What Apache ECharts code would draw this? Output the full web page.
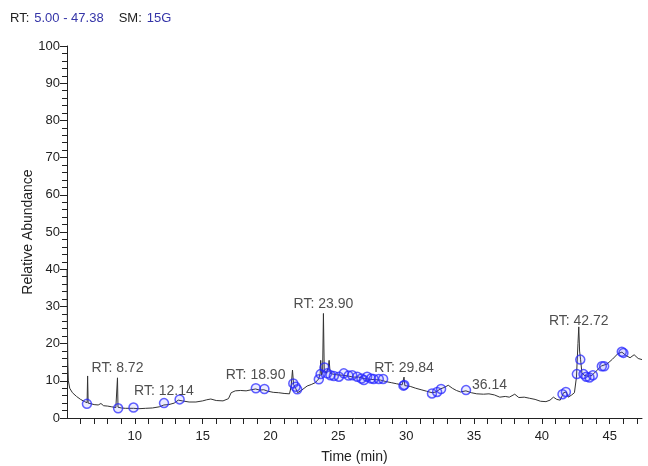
<!DOCTYPE html>
<html><head><meta charset="utf-8">
<script src="https://cdn.jsdelivr.net/npm/echarts@6/dist/echarts.min.js"></script>
<style>html,body{margin:0;padding:0;background:#fff}#c{width:648px;height:466px}</style>
</head><body><div id="c"></div>
<script>
// Chromatogram trace: retention time (min) and relative abundance (%)
var traceTime = [5.00,5.03,5.06,5.10,5.20,5.40,5.70,6.00,6.30,6.48,6.52,6.56,6.62,6.80,7.00,7.30,7.50,7.60,7.70,8.00,8.30,8.60,8.68,8.72,8.76,8.85,9.00,9.30,9.60,9.90,10.30,10.80,11.30,11.80,12.14,12.50,12.90,13.20,13.50,14.00,14.50,15.00,15.30,15.60,16.00,16.50,16.90,17.10,17.40,17.80,18.20,18.60,18.90,19.20,19.50,19.80,20.20,20.60,21.00,21.40,21.52,21.62,21.70,21.85,22.00,22.30,22.70,23.00,23.30,23.55,23.66,23.70,23.76,23.84,23.90,23.96,24.10,24.25,24.32,24.40,24.60,24.90,25.30,25.70,26.10,26.50,26.90,27.30,27.70,28.10,28.50,28.90,29.30,29.70,29.80,29.84,29.90,30.30,30.70,31.10,31.50,31.90,32.20,32.50,32.80,33.10,33.40,33.70,34.00,34.40,34.80,35.20,35.70,36.10,36.14,36.20,36.50,36.90,37.30,37.60,38.00,38.30,38.70,39.10,39.50,39.90,40.30,40.60,40.85,41.10,41.35,41.60,41.80,41.95,42.20,42.40,42.55,42.66,42.72,42.78,42.85,42.95,43.10,43.40,43.70,44.00,44.40,44.80,45.20,45.60,45.90,46.20,46.50,46.80,47.10,47.38];
var traceValue = [40.0,25.0,15.0,10.0,8.0,6.8,5.8,5.0,4.4,4.1,11.3,4.0,3.9,3.8,3.6,3.5,3.9,3.4,3.3,3.2,3.0,2.8,2.9,10.8,2.9,2.8,2.7,2.6,2.6,2.6,2.5,2.6,2.7,3.0,3.5,3.6,4.0,4.8,4.6,4.3,4.3,4.6,4.9,5.1,4.7,4.6,5.2,6.8,7.3,7.4,7.3,7.6,7.8,7.5,7.6,7.2,6.9,6.8,6.6,6.5,8.5,12.9,9.0,8.0,6.8,7.5,8.6,9.0,9.5,10.5,12.0,15.5,11.5,12.5,28.1,13.0,12.0,13.5,15.5,12.0,11.8,11.6,11.5,11.3,11.0,11.0,10.6,10.4,10.3,10.2,9.8,9.5,9.2,8.9,9.2,11.0,8.7,8.5,8.0,7.6,7.2,6.8,7.0,7.8,8.2,8.8,8.0,7.4,7.0,7.3,6.8,6.5,6.4,6.5,6.9,6.4,6.2,5.6,5.8,5.6,6.4,5.5,5.6,5.3,5.0,4.5,4.4,4.8,5.6,5.0,4.8,6.8,7.0,5.6,6.2,6.8,11.0,20.0,24.5,18.0,15.8,12.2,11.5,11.2,11.5,12.6,14.0,14.5,15.8,17.3,17.7,16.8,16.2,17.0,16.0,15.7];

// Identified peaks (blue circles)
var markTime = [6.47,8.77,9.90,12.15,13.30,18.92,19.55,21.68,21.85,21.97,23.56,23.69,23.98,24.18,24.42,24.67,25.04,25.40,25.75,26.02,26.39,26.70,26.88,27.12,27.40,27.60,27.98,28.30,29.80,29.86,31.90,32.28,32.57,34.41,41.52,41.77,42.58,42.83,43.07,43.27,43.51,43.76,44.42,44.59,45.89,46.01];
var markValue = [3.8,2.6,2.8,4.0,5.0,8.0,7.8,9.3,8.4,7.7,10.4,11.8,13.6,12.0,11.5,11.3,11.1,12.0,11.4,11.5,11.1,10.6,10.2,11.1,10.6,10.5,10.5,10.5,8.7,8.9,6.6,7.0,7.8,7.5,6.4,7.0,11.8,15.7,11.8,11.1,10.9,11.5,13.9,13.9,17.8,17.5];

// Peak annotations
var labelTime = [8.72,12.14,18.90,23.90,29.84,36.14,42.72];
var labelAnchor = [10.7,4.6,8.8,27.9,10.7,6.2,23.3];
var labelText = ['RT: 8.72','RT: 12.14','RT: 18.90','RT: 23.90','RT: 29.84','36.14','RT: 42.72'];

var xLabelValues = [10,15,20,25,30,35,40,45];
var xTickValues = [6,7,8,9,10,11,12,13,14,15,16,17,18,19,20,21,22,23,24,25,26,27,28,29,30,31,32,33,34,35,36,37,38,39,40,41,42,43,44,45,46,47];

var FONT = "'Liberation Sans', Arial, sans-serif";
var trace = traceTime.map(function(t,i){return [t, traceValue[i]];});
var marks = markTime.map(function(t,i){return [t, markValue[i]];});
var labels = labelTime.map(function(t,i){return [t, labelAnchor[i], labelText[i]];});

var chart = echarts.init(document.getElementById('c'), null, {renderer:'canvas'});
chart.setOption({
  animation:false,
  backgroundColor:'#fff',
  title:{
    left:5, top:4,
    text:'{k|RT:} {v|5.00 - 47.38}   {k|SM:} {v|15G}',
    textStyle:{fontWeight:'normal', rich:{
      k:{color:'#222', fontSize:13, fontWeight:'normal', fontFamily:FONT},
      v:{color:'#3535a8', fontSize:13, fontWeight:'normal', fontFamily:FONT}
    }}
  },
  grid:{left:67, right:6, top:46, bottom:48, containLabel:false, outerBoundsMode:'none'},
  xAxis:{
    type:'value', min:5, max:47.38,
    name:'Time (min)', nameLocation:'middle', nameGap:32, nameMoveOverlap:false,
    nameTextStyle:{color:'#222', fontSize:14, fontFamily:FONT},
    axisLine:{show:true, onZero:false, lineStyle:{color:'#222', width:1}},
    axisTick:{show:true, length:6, customValues:xTickValues, lineStyle:{color:'#222'}},
    axisLabel:{customValues:xLabelValues, color:'#222', fontSize:13, fontFamily:FONT, margin:12},
    splitLine:{show:false}
  },
  yAxis:{
    type:'value', min:0, max:100, interval:10,
    name:'Relative Abundance', nameLocation:'middle', nameGap:32, nameRotate:90, nameMoveOverlap:false,
    nameTextStyle:{color:'#222', fontSize:14, fontFamily:FONT},
    axisLine:{show:true, lineStyle:{color:'#222', width:1}},
    axisTick:{show:true, inside:false, length:7, lineStyle:{color:'#222'}},
    minorTick:{show:true, splitNumber:5, length:5, lineStyle:{color:'#222'}},
    axisLabel:{color:'#222', fontSize:13, fontFamily:FONT, margin:7},
    splitLine:{show:false}
  },
  series:[
    {type:'line', data:trace, showSymbol:false, symbol:'none', smooth:false,
     lineStyle:{color:'#333', width:1}, z:2},
    {type:'scatter', data:marks, symbol:'circle', symbolSize:9,
     itemStyle:{color:'rgba(90,90,255,0.15)', borderColor:'rgba(35,35,255,0.9)', borderWidth:1.5}, z:3},
    {type:'scatter', data:labels, symbolSize:0, z:4,
     label:{show:true, position:'top', distance:3, color:'#222', fontSize:14, fontFamily:FONT,
       formatter:function(p){return p.data[2];}}}
  ]
});
</script></body></html>
